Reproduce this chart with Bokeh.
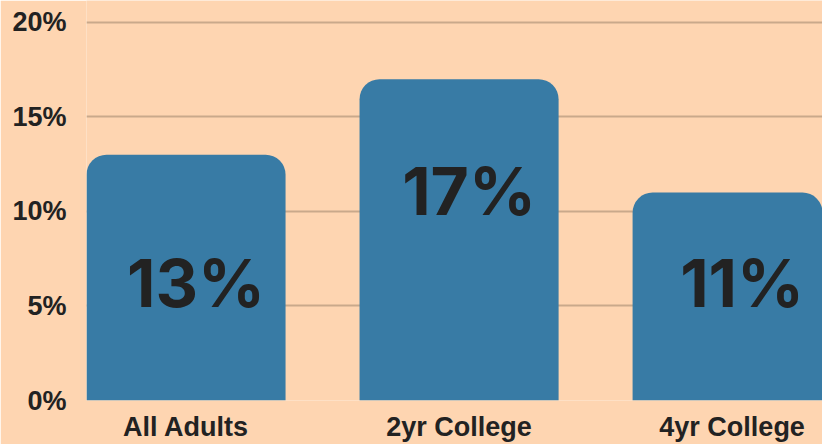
from bokeh.plotting import figure
from bokeh.models import ColumnDataSource, FixedTicker, Range1d
from bokeh.core.properties import value
from bokeh.embed import file_html
from bokeh.resources import INLINE

categories = ["All Adults", "2yr College", "4yr College"]
shares = [13, 17, 11]
bar_labels = ["13%", "17%", "11%"]
label_pos = [6.2, 11.1, 6.2]
y_ticks = [0, 5, 10, 15, 20]

BG = "#FED5B1"
BAR = "#387BA5"
GRID = "#C9A98B"
TEXT = "#222222"

xs = list(range(len(categories)))
src = ColumnDataSource(dict(x=xs, top=shares, label=bar_labels, ly=label_pos))

p = figure(width=822, height=444, output_backend="svg", toolbar_location=None,
           x_range=Range1d(-0.3645, 2.331), y_range=Range1d(0, 21.16),
           min_border_left=86, min_border_right=0, min_border_top=0, min_border_bottom=44)

p.background_fill_color = BG
p.border_fill_color = BG
p.outline_line_color = None

p.vbar(x="x", top="top", width=0.729, source=src, fill_color=BAR, line_color=None,
       border_radius=(20, 20, 0, 0))

p.text(x="x", y="ly", text="label", source=src, x_offset=10,
       text_align="center", text_baseline="middle",
       text_font=value("Inter"), text_font_style="bold", text_font_size="66px",
       text_color=TEXT)

p.xgrid.grid_line_color = None
p.ygrid.grid_line_color = GRID
p.ygrid.grid_line_width = 2
p.ygrid.ticker = FixedTicker(ticks=y_ticks)

p.yaxis.ticker = FixedTicker(ticks=y_ticks)
p.yaxis.major_label_overrides = {t: f"{t}%" for t in y_ticks}
p.yaxis.axis_line_color = None
p.yaxis.major_tick_line_color = None
p.yaxis.minor_tick_line_color = None
p.yaxis.major_label_standoff = 14
p.yaxis.major_label_text_font = "Liberation Sans"
p.yaxis.major_label_text_font_style = "bold"
p.yaxis.major_label_text_font_size = "27px"
p.yaxis.major_label_text_color = TEXT

p.xaxis.ticker = FixedTicker(ticks=xs)
p.xaxis.major_label_overrides = {i: c for i, c in enumerate(categories)}
p.xaxis.axis_line_color = None
p.xaxis.major_tick_line_color = None
p.xaxis.minor_tick_line_color = None
p.xaxis.major_tick_out = 0
p.xaxis.major_tick_in = 0
p.xaxis.major_label_standoff = 11
p.xaxis.major_label_text_line_height = 0.5
p.xaxis.major_label_text_font = "Liberation Sans"
p.xaxis.major_label_text_font_style = "bold"
p.xaxis.major_label_text_font_size = "27px"
p.xaxis.major_label_text_color = TEXT

open("out.html", "w").write(file_html(p, INLINE))
